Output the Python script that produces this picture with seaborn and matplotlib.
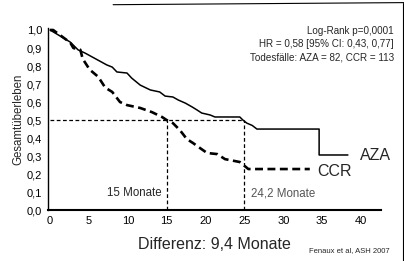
import matplotlib
matplotlib.use("Agg")
import matplotlib.pyplot as plt
import seaborn as sns
from matplotlib.lines import Line2D

# Kaplan-Meier Kurven
aza_t = [0, 2.6, 3.6, 4.5, 7.3, 8.0, 8.6, 9.9, 10.5, 11.6, 12.9, 14.1, 14.8, 15.8,
         16.5, 17.4, 18.3, 18.9, 19.5, 20.6, 21.2, 24.4, 24.8, 25.3, 26.0, 26.6,
         34.6, 34.6, 38.3]
aza_s = [1.0, 0.933, 0.89, 0.872, 0.806, 0.794, 0.767, 0.761, 0.733, 0.694, 0.667,
         0.656, 0.633, 0.628, 0.611, 0.594, 0.572, 0.556, 0.539, 0.528, 0.517, 0.517,
         0.5, 0.483, 0.47, 0.45, 0.45, 0.306, 0.306]
ccr_t = [0, 0.4, 2.6, 3.0, 3.9, 4.2, 5.1, 6.2, 7.1, 8.0, 9.0, 9.9, 11.6, 13.1, 14.4,
         15.0, 15.8, 16.7, 17.6, 18.4, 19.3, 20.2, 21.5, 22.5, 24.4, 25.5, 33.4]
ccr_s = [1.0, 1.0, 0.93, 0.9, 0.89, 0.84, 0.78, 0.74, 0.68, 0.656, 0.6, 0.583, 0.567,
         0.544, 0.517, 0.5, 0.483, 0.444, 0.394, 0.372, 0.344, 0.317, 0.311, 0.283,
         0.267, 0.228, 0.228]

median_aza = 25
median_ccr = 15
x_ticks = [0, 5, 10, 15, 20, 25, 30, 35, 40]
y_ticks = [0.0, 0.1, 0.2, 0.3, 0.4, 0.5, 0.6, 0.7, 0.8, 0.9, 1.0]
stats_text = ["Log-Rank p=0,0001", "HR = 0,58 [95% CI: 0,43, 0,77]",
              "Todesfälle: AZA = 82, CCR = 113"]

sns.set_style("white")
plt.rcParams['font.family'] = ['Liberation Sans', 'DejaVu Sans']

fig = plt.figure(figsize=(4.04, 2.61), dpi=100)
ax = fig.add_axes([0.118, 0.195, 0.824, 0.697])

sns.lineplot(x=aza_t, y=aza_s, sort=False, estimator=None, color='black', lw=1.1, ax=ax)
sns.lineplot(x=ccr_t, y=ccr_s, sort=False, estimator=None, color='black', lw=1.9,
             linestyle=(0, (3, 1.7)), ax=ax)

# Median-Hilfslinien
ax.plot([0, median_aza], [0.5, 0.5], color='black', lw=0.9, linestyle=(0, (3, 2)))
ax.plot([median_ccr, median_ccr], [0, 0.5], color='black', lw=0.9, linestyle=(0, (3, 2)))
ax.plot([median_aza, median_aza], [0, 0.5], color='black', lw=0.9, linestyle=(0, (3, 2)))

ax.set_xlim(-0.3, 42.5)
ax.set_ylim(0, 1.01)
ax.set_xticks(x_ticks)
ax.set_xticklabels([str(t) for t in x_ticks], fontsize=8)
ax.set_yticks(y_ticks)
ax.set_yticklabels([f"{v:.1f}".replace('.', ',') for v in y_ticks], fontsize=8)
ax.tick_params(axis='both', direction='out', length=2.5, width=0.8, pad=1.5, colors='black')
sns.despine(ax=ax)
ax.spines['left'].set_linewidth(1.0)
ax.spines['bottom'].set_linewidth(1.5)
ax.spines['left'].set_color('black')
ax.spines['bottom'].set_color('black')

ax.set_ylabel("Gesamtüberleben", fontsize=8.3, labelpad=2)
ax.set_xlabel("Differenz: 9,4 Monate", fontsize=11.5, labelpad=8)

ax.text(39.9, 0.305, "AZA", fontsize=11.5, va='center', ha='left')
ax.text(34.4, 0.215, "CCR", fontsize=11.5, va='center', ha='left')
ax.text(14.4, 0.095, "15 Monate", fontsize=8.3, ha='right', va='center')
ax.text(25.8, 0.09, "24,2 Monate", fontsize=8.3, ha='left', va='center', color='#555555')

for i, s in enumerate(stats_text):
    ax.text(44.2, 0.995 - i * 0.073, s, fontsize=7.1, ha='right', va='center')

fig.text(0.965, 0.04, "Fenaux et al, ASH 2007", fontsize=5.5, ha='right', va='center')

# Rahmen oben/rechts wie im Scan
fig.add_artist(Line2D([0.28, 1.0], [0.982, 0.99], color='black', lw=0.8))
fig.add_artist(Line2D([0.997, 0.997], [0.0, 0.99], color='black', lw=0.8))

fig.savefig("out.png", dpi=100)
